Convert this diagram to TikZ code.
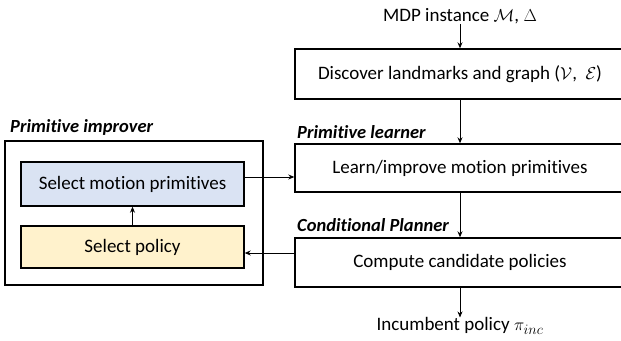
\documentclass[tikz,border=0pt]{standalone}
\usepackage{fontspec}
\setmainfont[Ligatures=NoCommon]{Carlito}
\usetikzlibrary{arrows.meta}
\definecolor{boxblue}{HTML}{DAE3F3}
\definecolor{boxyellow}{HTML}{FFF2CC}
\begin{document}
\begin{tikzpicture}[x=1pt,y=-1pt,
  every node/.style={font=\fontsize{19}{22}\selectfont, inner sep=0pt},
  procbox/.style={draw, line width=1.4pt, minimum width=330pt, anchor=center},
  inbox/.style={draw, line width=1.4pt, minimum width=223pt},
  lbl/.style={font=\fontsize{18.5}{22}\selectfont\bfseries\itshape, anchor=west},
  arr/.style={line width=0.8pt, -{Stealth[length=6pt,width=5pt]}}]
\useasboundingbox (0,0) rectangle (621,340);
\begin{scope}
\clip (0,0) rectangle (621,340);
\node (mdp) at (460,16) {MDP instance $\mathcal{M}$, $\Delta$};
\node[procbox, minimum height=50pt] (disc) at (460,74) {Discover landmarks and graph ($\mathcal{V}$,\ \ $\mathcal{E}$)};
\node[procbox, minimum height=48pt] (learn) at (460,168) {Learn/improve motion primitives};
\node[procbox, minimum height=49pt] (comp) at (460,262.5) {Compute candidate policies};
\node (inc) at (460,326) {Incumbent policy $\pi_{inc}$};
\node[draw, line width=1.4pt, minimum width=258pt, minimum height=144pt] (outer) at (134,213) {};
\node[inbox, fill=boxblue, minimum height=44pt] (blue) at (132.5,184) {Select motion primitives};
\node[inbox, fill=boxyellow, minimum height=42pt] (yellow) at (132.5,247) {Select policy};
\node[lbl] (limp) at (10,127) {Primitive improver};
\node[lbl] (llearn) at (297,132) {Primitive learner};
\node[lbl] (lplan) at (297,225) {Conditional Planner};
\draw[arr] (mdp.south) -- (disc.north);
\draw[arr] (disc.south) -- (learn.north);
\draw[arr] (learn.south) -- (comp.north);
\draw[arr] (comp.south) -- (inc.north);
\draw[arr] (yellow.north) -- (blue.south);
\draw[arr] ([yshift=7pt]blue.east) -- ([yshift=7pt]blue.east -| learn.west);
\draw[arr] ([yshift=9.5pt]comp.west) -- ([yshift=9.5pt]comp.west -| yellow.east);
\end{scope}
\end{tikzpicture}
\end{document}
